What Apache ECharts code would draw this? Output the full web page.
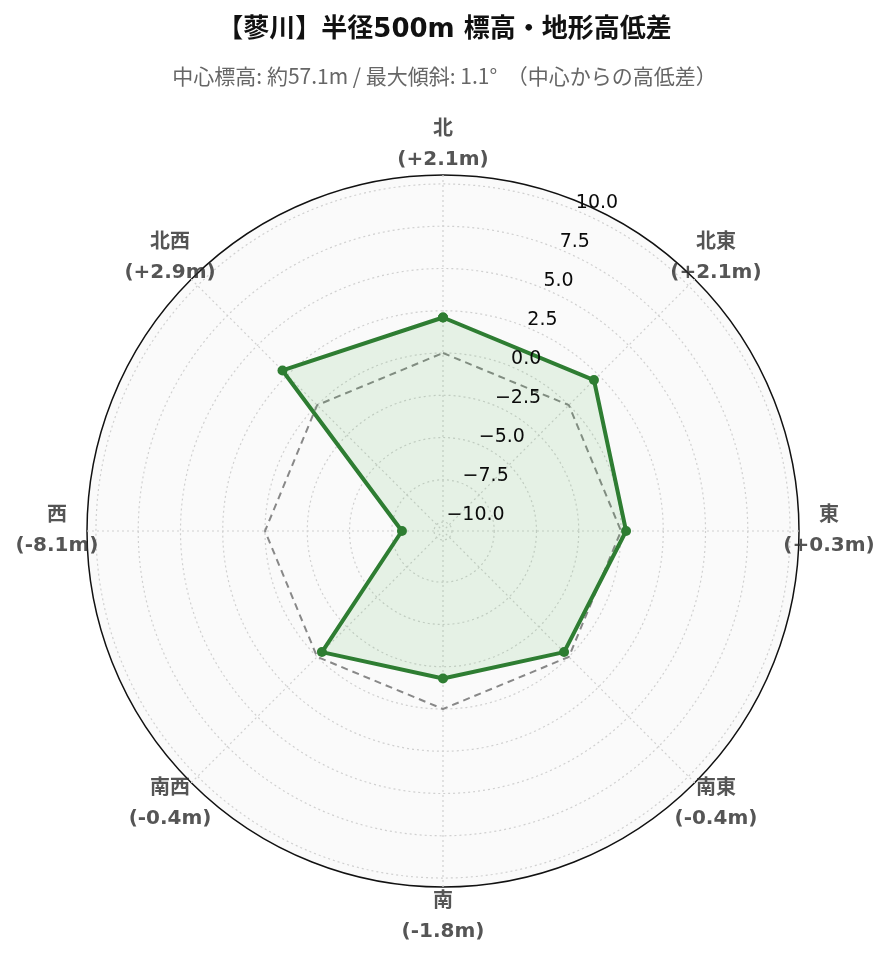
<!DOCTYPE html>
<html>
<head>
<meta charset="utf-8">
<script src="https://cdn.jsdelivr.net/npm/echarts@6/dist/echarts.min.js"></script>
<style>
html,body{margin:0;padding:0;background:#fff;}
#chart{width:889px;height:962px;}
</style>
</head>
<body>
<div id="chart"></div>
<script>
const titleText = '【蓼川】半径500m 標高・地形高低差';
const subtitleText = '中心標高: 約57.1m / 最大傾斜: 1.1°  （中心からの高低差）';
const directions = ['北', '北東', '東', '南東', '南', '南西', '西', '北西'];
const bearings = [0, 45, 90, 135, 180, 225, 270, 315];
const elevationDiff = [2.1, 2.1, 0.3, -0.4, -1.8, -0.4, -8.1, 2.9];
const referenceLevel = [0, 0, 0, 0, 0, 0, 0, 0];
const radialTicks = [-10, -7.5, -5, -2.5, 0, 2.5, 5, 7.5, 10];
const radialRange = 10.53;

const CJK = '"DejaVu Sans", "Noto Sans CJK JP", sans-serif';

function closed(values) {
  const pts = values.map((v, i) => [v, bearings[i]]);
  pts.push([values[0], bearings[0] + 360]);
  return pts;
}
function fmtDiff(v) {
  return (v > 0 ? '+' : '') + v.toFixed(1) + 'm';
}

const chart = echarts.init(document.getElementById('chart'), null, { renderer: 'canvas' });
const center = [443, 531];
const gridLine = { color: '#d0d0d0', width: 1.2, type: [2, 3] };
const hiddenAngle = {
  type: 'value', min: 0, max: 360, interval: 45, clockwise: true,
  axisLine: { show: false }, axisTick: { show: false }, axisLabel: { show: false },
  splitLine: { show: false }, splitArea: { show: false }
};
const option = {
  backgroundColor: '#ffffff',
  animation: false,
  title: {
    text: titleText,
    subtext: subtitleText,
    left: 'center',
    top: 8,
    itemGap: 16,
    textStyle: { fontSize: 26, fontWeight: 'bold', color: '#111', fontFamily: CJK, lineHeight: 34 },
    subtextStyle: { fontSize: 21, color: '#666', fontFamily: '"Noto Sans CJK JP", sans-serif', lineHeight: 26 }
  },
  polar: [
    { center: center, radius: 356 },
    { center: center, radius: 356 },
    { center: center, radius: 386 }
  ],
  angleAxis: [
    Object.assign({}, hiddenAngle, {
      polarIndex: 0, startAngle: 90,
      splitLine: { show: true, lineStyle: gridLine },
      z: 2
    }),
    Object.assign({}, hiddenAngle, {
      polarIndex: 1, startAngle: 67.5, interval: 90,
      axisLine: { show: true, lineStyle: { color: '#111', width: 1.5 } },
      splitArea: { show: true, areaStyle: { color: ['#fafafa'] } },
      z: 0
    }),
    Object.assign({}, hiddenAngle, { polarIndex: 2, startAngle: 90 })
  ],
  radiusAxis: [
    {
      polarIndex: 0, type: 'value', min: -radialRange, max: radialRange,
      axisLine: { show: false },
      axisTick: { show: false, customValues: radialTicks },
      axisLabel: { show: false, customValues: radialTicks },
      splitLine: { show: true, lineStyle: gridLine },
      z: 2
    },
    {
      polarIndex: 1, type: 'value', min: -radialRange, max: radialRange,
      axisLine: { show: false },
      axisTick: { show: false, customValues: radialTicks },
      splitLine: { show: false },
      axisLabel: {
        show: true, customValues: radialTicks, margin: 0, align: 'left', verticalAlign: 'bottom',
        color: '#0a0a0a', fontSize: 19, fontFamily: '"DejaVu Sans", sans-serif',
        padding: [0, 0, -2, 0],
        formatter: v => v.toFixed(1).replace('-', '\u2212')
      },
      z: 5
    },
    {
      polarIndex: 2, type: 'value', min: 0, max: 1,
      axisLine: { show: false }, axisTick: { show: false }, axisLabel: { show: false }, splitLine: { show: false }
    }
  ],
  series: [
    {
      type: 'line', coordinateSystem: 'polar', polarIndex: 0, clip: false,
      data: closed(referenceLevel),
      symbol: 'none', silent: true,
      lineStyle: { color: '#888', width: 2, type: [7, 5] },
      z: 2
    },
    {
      type: 'line', coordinateSystem: 'polar', polarIndex: 0, clip: false,
      data: closed(elevationDiff),
      symbol: 'circle', symbolSize: 10,
      itemStyle: { color: '#2e7d32' },
      lineStyle: { color: '#2e7d32', width: 4 },
      areaStyle: { color: 'rgba(76,175,80,0.17)', origin: 'start' },
      z: 3
    },
    {
      type: 'scatter', coordinateSystem: 'polar', polarIndex: 2,
      data: directions.map((d, i) => [1, bearings[i]]),
      symbolSize: 0, silent: true,
      label: {
        show: true, position: 'inside',
        formatter: p => directions[p.dataIndex] + '\n(' + fmtDiff(elevationDiff[p.dataIndex]) + ')',
        color: '#2a2a2a', fontSize: 20, fontWeight: 'bold', fontFamily: CJK, lineHeight: 30, align: 'center'
      },
      z: 4
    }
  ]
};
chart.setOption(option);
</script>
</body>
</html>
